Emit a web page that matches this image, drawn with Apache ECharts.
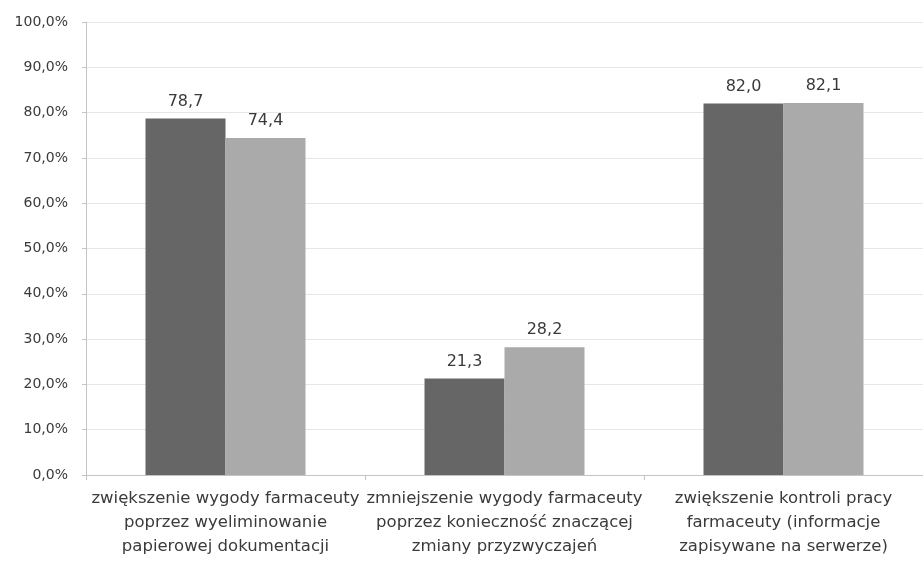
<!DOCTYPE html>
<html>
<head>
<meta charset="utf-8">
<script src="https://cdn.jsdelivr.net/npm/echarts@6/dist/echarts.min.js"></script>
<style>
  html, body { margin: 0; padding: 0; background: #ffffff; }
  #chart { width: 923px; height: 562px; }
</style>
</head>
<body>
<div id="chart"></div>
<script>
// Categories (three-line labels) and the two series of percentages
const categories = [
  'zwiększenie wygody farmaceuty\npoprzez wyeliminowanie\npapierowej dokumentacji',
  'zmniejszenie wygody farmaceuty\npoprzez konieczność znaczącej\nzmiany przyzwyczajeń',
  'zwiększenie kontroli pracy\nfarmaceuty (informacje\nzapisywane na serwerze)'
];
const seriesA = [78.7, 21.3, 82.0];
const seriesB = [74.4, 28.2, 82.1];
const yTicks = { min: 0, max: 100, step: 10 };

const fmtComma = (v, d) => v.toFixed(d).replace('.', ',');
const FONT = '"DejaVu Sans", sans-serif';

const chart = echarts.init(document.getElementById('chart'), null, { renderer: 'canvas' });

const labelCfg = {
  show: true,
  position: 'top',
  distance: 9,
  color: '#3a3a3a',
  fontSize: 16,
  fontFamily: FONT,
  formatter: p => fmtComma(p.value, 1)
};

chart.setOption({
  animation: false,
  backgroundColor: '#ffffff',
  grid: { left: 86, right: -3, top: 22, bottom: 87, containLabel: false },
  xAxis: {
    type: 'category',
    data: categories,
    axisLine: { show: true, lineStyle: { color: '#c4c4c4', width: 1 } },
    axisTick: { show: true, alignWithLabel: false, length: 5, lineStyle: { color: '#c4c4c4' } },
    axisLabel: {
      interval: 0,
      color: '#3a3a3a',
      fontSize: 16.5,
      fontFamily: FONT,
      lineHeight: 24,
      margin: 12,
      align: 'center'
    }
  },
  yAxis: {
    type: 'value',
    min: yTicks.min,
    max: yTicks.max,
    interval: yTicks.step,
    axisLine: { show: true, lineStyle: { color: '#c4c4c4', width: 1 } },
    axisTick: { show: true, length: 4, lineStyle: { color: '#c4c4c4' } },
    splitLine: { show: true, lineStyle: { color: '#e6e6e6', width: 1 } },
    axisLabel: {
      color: '#3a3a3a',
      fontSize: 14,
      fontFamily: FONT,
      margin: 18,
      formatter: v => fmtComma(v, 1) + '%'
    }
  },
  series: [
    {
      name: 'A',
      type: 'bar',
      data: seriesA,
      barWidth: 80,
      barGap: '0%',
      itemStyle: { color: '#666666' },
      label: labelCfg
    },
    {
      name: 'B',
      type: 'bar',
      data: seriesB,
      barWidth: 80,
      barGap: '0%',
      itemStyle: { color: '#aaaaaa' },
      label: labelCfg
    }
  ]
});
</script>
</body>
</html>
